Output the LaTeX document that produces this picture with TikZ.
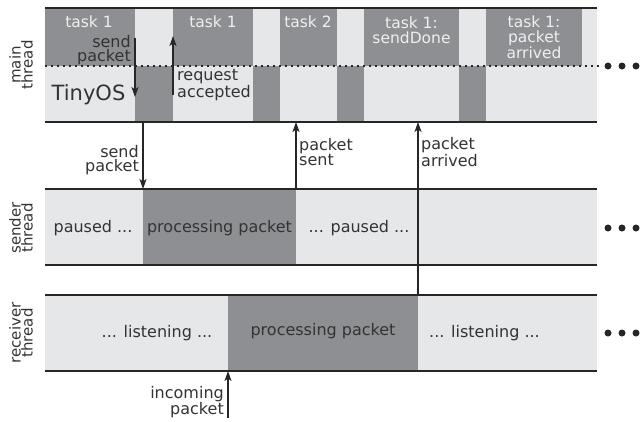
\documentclass[tikz,border=0pt]{standalone}
\usepackage{fontspec}
\setmainfont{DejaVu Sans}
\usetikzlibrary{arrows.meta}
\definecolor{dk}{HTML}{8E8F93}
\definecolor{lt}{HTML}{E6E7E9}
\definecolor{ln}{HTML}{262626}
\definecolor{tx}{HTML}{333333}
\definecolor{wt}{HTML}{EFEFEF}
\begin{document}
\begin{tikzpicture}[x=1pt,y=-1pt,
  bandline/.style={line width=2pt, draw=ln},
  arr/.style={line width=1.6pt, draw=ln, -{Stealth[length=10pt,width=7pt,inset=2.5pt]}},
  lbl/.style={font=\fontsize{16}{13.5}\selectfont, text=tx, inner sep=0pt},
  tasklbl/.style={font=\fontsize{15.5}{15}\selectfont, text=wt, align=center, inner sep=0pt},
  bandtxt/.style={font=\fontsize{16}{18}\selectfont, text=tx, inner sep=0pt},
  side/.style={font=\fontsize{15}{12}\selectfont, text=tx, rotate=90, align=center, inner sep=0pt},
  bigdot/.style={circle, fill=ln, inner sep=0pt, minimum size=7pt}
]
\useasboundingbox (0,0) rectangle (640,421);

% ---------- main thread band ----------
\fill[lt] (45,8) rectangle (597,122);
\foreach \a/\b in {45/135,173/253,280/337,364/459,486/582}
  \fill[dk] (\a,8) rectangle (\b,66);
\foreach \a/\b in {135/173,253/280,337/364,459/486}
  \fill[dk] (\a,66) rectangle (\b,122);
\draw[ln, line width=1.5pt, dash pattern=on 1.5pt off 4.5pt] (45,66) -- (601,66);
\draw[bandline] (45,8) -- (597,8);
\draw[bandline] (45,122) -- (597,122);

% ---------- sender thread band ----------
\fill[lt] (45,189) rectangle (597,265);
\fill[dk] (143,189) rectangle (296,265);
\draw[bandline] (45,189) -- (597,189);
\draw[bandline] (45,265) -- (597,265);

% ---------- receiver thread band ----------
\fill[lt] (45,295) rectangle (597,371);
\fill[dk] (228,295) rectangle (418,371);
\draw[bandline] (45,295) -- (597,295);
\draw[bandline] (45,371) -- (597,371);

% ---------- side labels ----------
\node[side] (lmain) at (21,65) {main\\thread};
\node[side] (lsend) at (21,228) {sender\\thread};
\node[side] (lrecv) at (21,333) {receiver\\thread};

% ---------- task labels ----------
\node[tasklbl] (t1) at (89,22) {task 1};
\node[tasklbl] (t2) at (213,22) {task 1};
\node[tasklbl] (t3) at (308,22) {task 2};
\node[tasklbl] (t4) at (411.5,30) {task 1:\\sendDone};
\node[tasklbl] (t5) at (534,37) {task 1:\\packet\\arrived};
\node[font=\fontsize{21}{24}\selectfont, text=tx, inner sep=0pt] (tos) at (88.5,95) {TinyOS};

% ---------- band texts ----------
\node[bandtxt] (s1) at (93,228) {paused ...};
\node[bandtxt] (s2) at (219.5,228) {processing packet};
\node[bandtxt] (s3) at (359,228) {... paused ...};
\node[bandtxt] (r1) at (157,333) {... listening ...};
\node[bandtxt] (r2) at (323,331) {processing packet};
\node[bandtxt] (r3) at (484.5,333) {... listening ...};

% ---------- arrow labels ----------
\node[lbl, align=right, anchor=east] (l1) at (131,50) {send\\packet};
\node[lbl, align=left, anchor=west] (l2) at (177,85) {request\\accepted};
\node[lbl, align=right, anchor=east] (l3) at (139,160) {send\\packet};
\node[lbl, align=left, anchor=west] (l4) at (299,152) {packet\\sent};
\node[lbl, align=left, anchor=west] (l5) at (421,152) {packet\\arrived};
\node[lbl, align=right, anchor=east] (l6) at (224,402) {incoming\\packet};

% ---------- arrow end points ----------
\coordinate (a1s) at (135,38);  \coordinate (a1e) at (135,97);
\coordinate (a2s) at (173,95);  \coordinate (a2e) at (173,36);
\coordinate (a3s) at (143,122); \coordinate (a3e) at (143,189);
\coordinate (a4s) at (296,189); \coordinate (a4e) at (296,122);
\coordinate (a5s) at (418,295); \coordinate (a5e) at (418,122);
\coordinate (a6s) at (228,418); \coordinate (a6e) at (228,371);

\draw[arr] (a1s) -- (a1e);
\draw[arr] (a2s) -- (a2e);
\draw[arr] (a3s) -- (a3e);
\draw[arr] (a4s) -- (a4e);
\draw[arr] (a5s) -- (a5e);
\draw[arr] (a6s) -- (a6e);

% ---------- continuation dots ----------
\foreach \y/\n in {66/m,228/s,333/r}{
  \node[bigdot] (d1\n) at (608,\y) {};
  \node[bigdot] (d2\n) at (622,\y) {};
  \node[bigdot] (d3\n) at (636,\y) {};
}
\end{tikzpicture}
\end{document}
